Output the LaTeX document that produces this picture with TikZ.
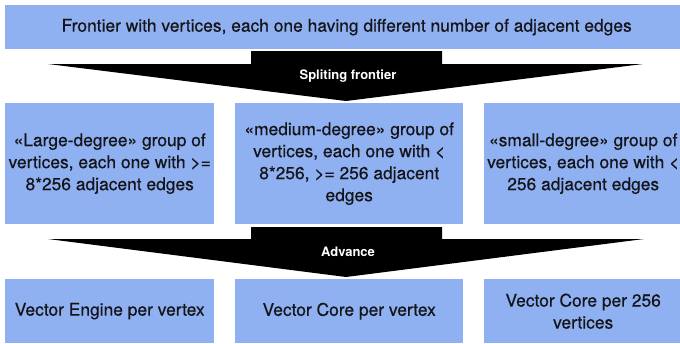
\documentclass[tikz,border=0pt]{standalone}
\usepackage{fontspec}
\setmainfont[FakeBold=0.5]{TeX Gyre Heros}
\newfontfamily\labelfont{TeX Gyre Heros}
\definecolor{boxblue}{RGB}{143,177,242}
\definecolor{txt}{RGB}{20,20,25}
\begin{document}
\begin{tikzpicture}[x=1pt,y=-1pt,
  box/.style={fill=boxblue, inner sep=0pt, anchor=north west, align=center,
    text=txt, font=\fontsize{17.4}{22}\selectfont},
  blockarrow/.style={fill=black},
  arrowlabel/.style={text=white, font=\labelfont\bfseries\fontsize{13}{15}\selectfont, inner sep=0pt}]
\useasboundingbox (0,0) rectangle (680,343);
\clip (0,0) rectangle (680,343);
% top
\node[box, minimum width=683pt, minimum height=44pt] (top) at (5,5)
  {Frontier with vertices, each one having different number of adjacent edges};
% middle row
\node[box, minimum width=209pt, minimum height=121pt] (large) at (5,103)
  {«Large-degree» group of\\vertices, each one with >=\\8*256 adjacent edges};
\node[box, minimum width=228pt, minimum height=121pt] (medium) at (235,103)
  {«medium-degree» group of\\vertices, each one with <\\8*256, >= 256 adjacent\\edges};
\node[box, minimum width=198pt, minimum height=121pt] (small) at (484,103)
  {«small-degree» group of\\vertices, each one with <\\256 adjacent edges};
% bottom row
\node[box, minimum width=209pt, minimum height=64pt] (engine) at (5,279)
  {Vector Engine per vertex};
\node[box, minimum width=228pt, minimum height=64pt] (core) at (235,279)
  {Vector Core per vertex};
\node[box, minimum width=198pt, minimum height=64pt] (core256) at (484,279)
  {Vector Core per 256\\vertices};
% arrows
\fill[blockarrow] (251,51) -- (442,51) -- (442,64) -- (643,64) -- (346,101)
  -- (48,64) -- (251,64) -- cycle;
\node[arrowlabel] (split) at (348,76) {Spliting frontier};
\fill[blockarrow] (251,227) -- (442,227) -- (442,239) -- (644,239) -- (346,277)
  -- (48,239) -- (251,239) -- cycle;
\node[arrowlabel] (adv) at (348,252) {Advance};
\end{tikzpicture}
\end{document}
